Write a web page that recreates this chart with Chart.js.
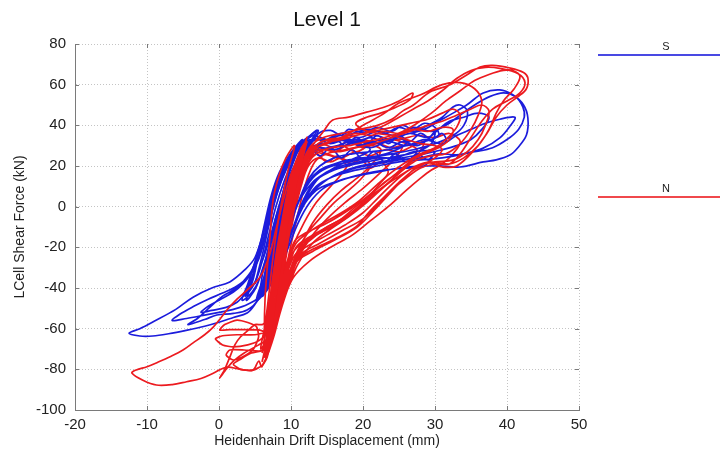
<!DOCTYPE html>
<html>
<head>
<meta charset="utf-8">
<script src="https://cdn.jsdelivr.net/npm/chart.js@4.4.1/dist/chart.umd.min.js"></script>
<style>
  html, body { margin: 0; padding: 0; background: #ffffff; }
  #wrap { width: 720px; height: 456px; position: relative; }
</style>
</head>
<body>
<div id="wrap"><canvas id="c" width="720" height="456"></canvas></div>
<script>
// Labels
const chartTitle = 'Level 1';
const xTitle = 'Heidenhain Drift Displacement (mm)';
const yTitle = 'LCell Shear Force (kN)';
const seriesNames = ['S', 'N'];
const seriesColors = ['#1c1cdc', '#ec1a1f'];
const xTicks = [-20, -10, 0, 10, 20, 30, 40, 50];
const yTicks = [80, 60, 40, 20, 0, -20, -40, -60, -80, -100];

// S record: displacement (mm), force (kN), split into cycle groups
const sElastic = [[4,-40],[5,-30],[5.9,-16],[6.8,-2],[7.8,10],[8.9,19],[10,25],[11.2,29],[10.2,22],[9,12],[7.9,0],[6.9,-14],[5.9,-28],[4.9,-38],[3.6,-44],
  [4.5,-36],[5.4,-24],[6.3,-9],[7.3,6],[8.4,17],[9.6,24],[11.5,31],[13.2,35],[12.2,28],[10.4,18],[9,6],[7.9,-8],[6.8,-22],[5.8,-34],[4.6,-42],[3.2,-46],
  [4,-38],[5,-27],[6.2,-12],[7.2,3],[8.3,14],[9.6,23],[10.9,30],[12.3,34],[13.8,37.5],[12.8,31],[11.2,22],[9.7,10],[8.4,-3],[7.2,-18],[6.1,-30],[5.1,-40],[3.8,-46],
  [4.8,-35],[5.7,-20],[6.7,-6],[7.7,8],[8.9,20],[10.3,28],[11.6,33],[10.8,26],[9.5,14],[8.3,0],[7.1,-15],[6,-27],[5,-37],[3.6,-43]];

const sNegative = [[3.6,-43],[2.5,-47],[1,-49.5],[-1,-51],[-2.5,-52],[-1.5,-49],[0,-46],[2,-42],[3.3,-38],[4.6,-32],[6,-20],[7.2,-4],[8.5,12],[10,24],[11.8,31],[13,33],
  [11.3,26],[9.8,14],[8.4,0],[7.2,-16],[6.2,-30],[5.3,-46],[3.9,-50.8],[2,-52.5],[-0.3,-53.3],[-2,-55.5],[-4.3,-58],[-3,-55],[-1.25,-49.4],[0.5,-44],[2,-41],[3.3,-37],
  [4.6,-31],[5.9,-19],[7.1,-3],[8.4,12],[9.7,22],[11,29],[12.6,33],[11.6,27],[9.9,16],[8.5,2],[7.3,-14],[6.5,-30],[6,-42],[5,-48],[3.9,-52.3],[2,-54.5],[0.1,-56.7],
  [-2,-58.8],[-4.4,-60.7],[-7,-62.5],[-9.2,-63.6],[-11,-63.6],[-12.5,-62.3],[-11,-60],[-9.2,-56.7],[-6,-50.5],[-3.6,-44.5],[-1,-40],[1.5,-37],[3.6,-31],[5,-25],
  [6.2,-12],[7.4,3],[8.7,16],[10.2,26],[11.8,32],[13.6,37.7],[12.4,30],[10.6,18],[9,4],[7.6,-12],[6.6,-28],[5.6,-44],[4,-48],[2,-50.5],[0,-52],[-2.2,-53.5],
  [-4.5,-55],[-6.5,-56],[-5.5,-53],[-3.5,-49],[-1.5,-45.5],[0.5,-42.5],[2.5,-39],[4.2,-34],[5.5,-26],[6.8,-10],[8,6],[9.3,18],[10.8,27]];

const sPositive = [[5,-38],[6,-24],[7,-8],[8.2,8],[9.5,20],[11.5,29],[13.5,33],[15.5,31],[17.5,33],[19.5,31],[21,28],[19,24],[17,21],[15,17],[13,12],[11,2],[9.3,-12],[7.8,-26],[6.3,-38],
  [7.2,-22],[8.1,-6],[9.1,10],[10.2,22],[11.3,30],[13,35],[15,33],[17,35],[19,32],[21,34],[23,32],[25,34],[26,31],[24,27],[22,25],[20,24],[18,23],[16,21],[14,18],[12.4,12],[10.8,0],[9.4,-14],[8,-28],[6.7,-38],
  [7.6,-24],[8.6,-8],[9.6,8],[10.7,20],[11.8,28],[13.5,33],[15.5,31],[17.5,33],[19.5,30],[21.5,32],[23.5,29],[25.5,32],[27.5,30],[29,33],[30,37],[29.5,31],[27.5,27],[25,25],[22,23],[19,21],[16,18],[13.5,13],[11.8,4],[10.3,-10],[8.8,-22],[7.2,-34],[5.7,-42],
  [6.9,-28],[8,-12],[9.1,4],[10.3,16],[11.6,25],[13.5,30],[16,32],[18.5,36],[21,38],[23,36],[25,39],[27,37],[29,40],[31,44],[32.5,49],[33.5,50],[34.5,47],[34,40],[32.5,35],[30,31],[27,28],[24,26],[21,24],[18,22],[15,19],[13,14],[11.4,5],[9.8,-8],[8.3,-22],[6.9,-34],[5.5,-43],
  [6.7,-30],[7.9,-14],[9,2],[10.2,15],[11.8,24],[14,28],[16.5,30],[19,33],[21.5,31],[24,34],[26.5,36],[28.5,38],[30.5,42],[32.5,46],[34.4,50],[36.7,55.9],[39,57.4],[40.8,55],[42.3,50],[42.9,43.6],[42.7,35.2],[41.5,29],[40.4,25.4],[38.5,23],[36.7,22],[33.5,19.5],[31,20],[28,20],[25,19],[22,17],[19,15],[16,12],[13.5,8],[11.3,-2],[9.7,-16],[8.3,-30],[6.9,-40],[5.2,-46],
  [6.5,-32],[7.7,-16],[8.8,0],[10,14],[11.6,24],[13.5,29],[16,28],[18.5,31],[21,29],[23.5,32],[26,30],[28.5,33],[31,31],[33,35],[35,38],[37,41],[39,43],[41.1,44],[40.5,40],[39,33.8],[36.7,28.8],[34,26],[31,24],[28,23],[25,22],[22,20],[19,18],[16,15],[13.5,10],[11.6,0],[10,-14],[8.5,-28],[7,-38],[5.5,-45],
  [6.8,-30],[7.9,-14],[9,2],[10.3,16],[12,26],[14,30],[16.5,33],[19,31],[21.5,35],[24,33],[26.5,36],[29,34],[30.5,38],[32,42],[34,44],[36,46],[37.5,44],[36.5,38],[35,33],[33,30],[31,28],[28.5,26],[25.5,24],[22.5,22],[19.5,20],[17,17],[14.5,12],[12.5,5],[10.8,-6],[9.2,-20],[7.7,-32],[6.2,-42],
  [7.3,-28],[8.4,-12],[9.5,4],[10.8,18],[12.5,28],[14.5,32],[17,36],[19.5,34],[22,37],[24.5,35],[27,39],[29.5,37],[31.5,40],[33.5,45],[35.5,50],[37.5,54],[39.5,56],[41.2,54],[42.2,49],[42.4,44],[41.6,38],[40,33],[38,29],[35.5,27],[33,25.5],[30.5,26],[28,24],[25,23],[22,21],[19,19],[16.5,16],[14,11],[12,2],[10.4,-10],[8.9,-24],[7.4,-36],[6,-44],
  [7,-30],[8.1,-14],[9.2,2],[10.4,16],[11.5,26],[12.5,31],[14,34],[15,31],[16,34],[17.5,30],[19,34],[20.5,31],[22,35],[23.5,31],[25,35],[26.5,32],[28,36],[29.5,33],[31,36],[31.5,32],[29.5,28],[27,27],[24.5,24],[22,24],[19.5,22],[17,20],[14.5,16],[12.8,9],[11.2,-3],[9.6,-17],[8.1,-30],[6.6,-40],
  [7.6,-26],[8.7,-10],[9.8,6],[11,20],[12.5,29],[14,25],[15.5,29],[17,24],[18.5,28],[20,23],[21.5,27],[23,22],[24.5,26],[26,22],[27.5,26],[29,23],[30,27],[28.5,20],[26,19],[23,18],[20,16],[17,13],[14.5,9],[12.6,2],[11,-8],[9.4,-22],[7.9,-34],[6.4,-42],
  [7.5,-28],[8.6,-12],[9.7,4],[10.9,18],[12.2,28],[13.8,36],[15.5,37.5],[17,35],[18,38],[20,36.5],[22,39],[24,37],[25.5,40],[27,38],[28.5,41],[30,39],[30.5,35],[28.5,32],[26,30],[23.5,28],[21,27],[18.5,26],[16,24],[14,20],[12.5,14],[11.2,4],[9.8,-10],[8.3,-24],[6.9,-36],[5.6,-44]];

// N record: displacement (mm), force (kN), split into cycle groups
const nElastic = [[6,-72],[6.5,-60],[7,-48],[7.5,-35],[8,-22],[8.7,-8],[9.4,5],[10.2,16],[11,24],[10.4,14],[9.6,0],[8.8,-14],[8.1,-28],[7.5,-42],[7,-56],[6.5,-68],[6,-76],
  [6.8,-64],[7.3,-52],[7.8,-40],[8.3,-27],[9,-12],[9.7,2],[10.5,14],[11.5,25],[12.2,32],[11.5,22],[10.5,8],[9.6,-6],[8.8,-20],[8.1,-34],[7.5,-48],[7,-60],[6.3,-72],
  [6.6,-66],[7,-55],[7.4,-43],[7.9,-30],[8.5,-16],[9.2,-2],[10,11],[10.8,22],[11.8,30],[12.2,34],[11,20],[10,4],[9.2,-10],[8.5,-24],[7.9,-38],[7.3,-52],[6.8,-64],[6.2,-74],
  [6.9,-62],[7.4,-50],[7.9,-38],[8.4,-25],[9,-11],[9.6,3],[10.3,15],[11.2,26],[10.6,17],[9.9,4],[9.1,-10],[8.4,-26],[7.8,-40],[7.2,-54],[6.7,-66],
  [7.2,-58],[7.6,-46],[8.1,-33],[8.7,-19],[9.4,-4],[10.1,10],[10.9,21],[11.6,28],[10.9,18],[10.1,4],[9.3,-12],[8.6,-28],[8,-42],[7.4,-56],[6.9,-66],[6.4,-74],
  [6.3,-60],[6.4,-45],[6.7,-30],[7.1,-14],[7.5,3],[8.3,15],[9.3,24],[10.5,30],[9.6,18],[8.8,4],[8,-12],[7.4,-28],[6.9,-44],[6.4,-58],[5.8,-70],
  [6.9,-62],[7.2,-50],[7.6,-38],[8.1,-25],[8.7,-12],[9.3,1],[10,13],[10.8,23],[11.5,29],[10.7,17],[9.9,3],[9.2,-9],[8.6,-22],[8,-36],[7.4,-50],[6.9,-63],[6.4,-72],
  [6.7,-60],[7.1,-47],[7.6,-34],[8.2,-20],[8.8,-6],[9.5,7],[10.3,18],[11.2,27],[11.9,31],[11.1,19],[10.3,6],[9.5,-8],[8.8,-22],[8.2,-36],[7.7,-50],[7.2,-62],[6.7,-74],[5.9,-79]];

const nNegative = [[5.9,-79],[5.5,-76],[4.7,-80.4],[3,-80],[1,-79],[-0.8,-81.9],[-2.5,-84.5],[-4.5,-86.1],[-6.5,-87.5],[-8.7,-87.7],[-10.5,-85.5],[-12.1,-81.8],
  [-11.5,-80.3],[-10,-78.7],[-8.5,-76.5],[-6.8,-73.8],[-5,-70.5],[-3.6,-67],[-2,-63],[-0.8,-59.2],[0.2,-55],[1.1,-50.8],[2.5,-45.5],[3.9,-41],[5.7,-34.6],[7,-24],
  [8,-10],[9,4],[10,16],[11,24],[10.3,14],[9.3,0],[8.4,-16],[7.6,-32],[7,-48],[6.5,-62]];

const nTangle = [[6.5,-62],[5.7,-60.7],[3.5,-60.5],[1.5,-60.5],[0.1,-60.7],[0.8,-58],[2.5,-55.8],[4,-57],[5.2,-59],[5.5,-64],[4.8,-70],[3.5,-73.5],[2,-75.4],[1,-73],
  [1.5,-70.5],[3.5,-70.5],[5.5,-71],[6.1,-70.5],[6.6,-66],[5.5,-68],[3.5,-72],[2,-76],[1,-80],[0.1,-84.3],[0.8,-80],[1.5,-74],[2.2,-68],[3,-64],[4,-61],[5,-58],
  [6,-58],[7,-56],[6.5,-70],[4.5,-72],[3,-75],[2,-77.5],[3,-80],[4.7,-80.4],[6,-78],[6.8,-72],[7,-62],[5,-63],[2.5,-63],[0.5,-63.5],[-0.5,-65],[0.5,-68],[2,-69],
  [4,-68],[5.5,-66],[6.5,-63],[7.2,-58]];

// N cycles that stay below about 35 kN
const nMidCycles = [[8,-44],[8.6,-32],[9.2,-18],[9.9,-4],[10.7,10],[11.5,22],[12.5,27],[14.5,26],[16.5,24],[18,22],[17,16],[15.5,10],[13.5,2],[11.8,-8],[10.2,-20],[9,-32],[8,-44],
  [8.6,-30],[9.3,-16],[10,-2],[10.8,12],[11.8,24],[13,30],[15,28],[17,30],[19,27],[21,30],[22.5,28],[21.5,22],[19.5,15],[17,8],[15,1],[13,-8],[11.5,-18],[10,-30],[8.8,-42],[7.8,-54],
  [8.4,-40],[9,-26],[9.8,-12],[10.6,2],[11.5,16],[12.5,26],[14,31],[16,29],[18,32],[20,29],[22,31],[24,29],[25.5,30],[24.5,24],[22.5,17],[20,9],[17.5,2],[15,-6],[13,-14],[11.2,-24],[9.8,-36],[8.6,-48],[7.5,-60],
  [8,-48],[8.6,-35],[9.3,-21],[10,-7],[10.8,7],[11.8,19],[13,28],[15,26],[17,24],[19,27],[21,25],[23,28],[25,27],[27,30],[28.5,32],[27.5,25],[25.5,18],[23,10],[20.5,2],[18,-5],[15.5,-11],[13,-18],[11,-28],[9.6,-40],[8.5,-52],[7.6,-64],[6.8,-72],
  [7.6,-56],[8.3,-42],[9,-30],[9.7,-17],[10.5,-3],[11.4,10],[12.4,20],[13.8,24],[15.5,22],[17,24],[18.5,21],[20,24],[21,20],[19.8,14],[18,8],[16,2],[14.2,-5],[12.5,-12],[11,-21],[9.8,-32],[8.8,-44],[7.9,-56],
  [8.6,-44],[9.3,-31],[10.1,-17],[11,-3],[12,11],[13.3,22],[15,26],[17.5,28],[20,30],[22.5,33],[25,33],[27.5,35],[30,34],[32,36],[33.5,32],[32.5,26],[31,21],[29.5,18],[28,14],[26,8],[23.5,0],[21,-7],[18.5,-14],[15.5,-20],[12.5,-27],[10.3,-35],[9,-46],[8,-58],[7.2,-68],
  [7.8,-56],[8.4,-43],[9,-29],[9.7,-15],[10.5,-1],[11.4,13],[12.5,23],[14,29],[16,27],[18,31],[20,33],[22,31],[24,33],[26,31],[27.5,28],[26.5,22],[24.5,15],[22,7],[19.5,0],[17,-7],[14.5,-12],[12.5,-16],[11,-22],[9.7,-34],[8.6,-46],[7.7,-58],
  [8.3,-46],[8.9,-33],[9.6,-19],[10.3,-5],[11.2,9],[12.2,20],[13.5,26],[15,22],[16.5,25],[18,20],[19.5,24],[21,19],[22.5,22],[23.5,17],[22.5,12],[21,6],[19,0],[17,-6],[15,-10],[13.2,-15],[11.6,-20],[10.2,-30],[9.1,-42],[8.1,-54],[7.3,-64]];

// N cycles reaching the upper and right-hand peaks
const nLargeCycles = [[7.4,-60],[8,-47],[8.6,-33],[9.3,-19],[10,-5],[10.8,9],[11.8,21],[13,30],[14.5,37],[15.8,42.6],[18,44],[20.5,46.5],[23,49],[25,52],[26.9,55.9],[26.5,52.5],[24,48],[22,45.5],[20.5,44],[19,41],[20,38],[22,36],[24,35],[26,33],[28,31],[30,30],[31,28],[30,24],[28.5,21],[27,18],[25,12],[23,5],[21,-2],[19,-10],[16,-16],[13,-21],[10.8,-26],[9.3,-38],[8.2,-50],[7.3,-62],[6.5,-70],
  [7.2,-58],[7.8,-45],[8.4,-32],[9.1,-18],[9.8,-4],[10.6,10],[11.6,22],[12.8,30],[14.5,34],[17,36],[19.5,38],[22,40],[24,43],[25.5,47],[27,50],[29.3,56.4],[32,59.8],[34.4,64.8],[36.25,68.7],[38,69.5],[40.4,68.2],[42.3,66],[42.9,63.3],[42.7,58],[41.5,54],[40,50],[38.5,44],[37.2,36],[35.5,28],[33,20],[31,19.5],[29.3,21.5],[27.5,19.5],[25.5,13],[23.75,6.7],[21.5,-2],[19.2,-10],[16,-16.5],[13,-22],[10.8,-27],[9.5,-38],[8.4,-50],[7.5,-62],[6.8,-72],
  [7.5,-60],[8.1,-48],[8.7,-35],[9.4,-21],[10.1,-7],[10.9,7],[11.9,19],[13.5,26],[15.5,29],[18,30],[20.5,32],[23,34],[25.5,37],[27.5,41],[29.5,46],[31.5,52],[33.5,57],[35.5,62],[37.5,65],[39.5,67],[40.8,67],[41.8,64],[41,58],[39.5,52],[38.5,46],[37.5,38],[36,30],[34,24],[32,21],[30,22],[28,21],[26,17],[24,11],[22,4],[20,-3],[17.5,-9],[15,-14],[12.5,-19],[10.5,-24],[9.2,-36],[8.2,-48],[7.3,-60],[6.6,-70],
  [7.3,-58],[7.9,-46],[8.5,-33],[9.2,-19],[9.9,-5],[10.7,9],[11.7,21],[13,28],[15,31],[17.5,35],[20.5,41],[23,46],[25,51],[28,55],[31,60],[33.5,61],[35.5,58],[36.5,52],[36,45],[35,38],[33.5,31],[31.5,26],[29.5,25],[27.5,23],[25.5,18],[23,12],[20.5,4],[18,-4],[15,-10],[12.5,-15],[10.7,-20],[9.5,-32],[8.5,-44],[7.6,-56],[6.9,-66],
  [7.6,-54],[8.2,-41],[8.9,-27],[9.6,-13],[10.4,1],[11.3,14],[12.5,24],[14,28],[16.5,27],[19,29],[21.5,31],[24,34],[26.5,37],[29,40],[31,42],[33,45],[35,48],[36.5,50],[37.5,47],[37,40],[36,33],[34.5,27],[32.5,23],[30,22],[27.5,20],[25,15],[22.5,9],[20,2],[17.5,-6],[14.5,-12],[12,-17],[10.4,-22],[9.2,-34],[8.3,-46],[7.4,-58],[6.7,-68],
  [7.3,-56],[7.9,-43],[8.5,-30],[9.2,-16],[9.9,-2],[10.7,12],[11.7,23],[13,29],[15,33],[17,34],[19,36],[21,35],[23,37],[25,36],[27,38],[29,37],[31,39],[32.5,38],[32,33],[30.5,29],[28.5,26],[26.5,22],[24.5,16],[22,9],[19.5,2],[17,-4],[14.5,-9],[12,-13],[10.5,-17],[9.3,-30],[8.3,-42],
  [8.9,-28],[9.6,-14],[10.4,0],[11.3,14],[12.5,25],[14.5,31],[17,33],[20,36],[23,40],[25,44],[27,48],[29,52],[31,57],[33,63],[35,67],[37,68.5],[39,68],[41.5,65.5],[42.5,61],[41.8,56],[40,52],[38,48],[36.5,42],[35,34],[33.5,26],[32,21],[30,21],[28,19],[26,14],[24,8],[22,1],[20,-6],[17,-12],[14,-18],[11.5,-23],[9.8,-32],[8.7,-44],[7.8,-56],
  [8.5,-39],[9.2,-25],[9.9,-11],[10.7,3],[11.6,16],[12.7,26],[14.2,32],[16.5,33],[19,35],[21.5,37],[24,39],[26.5,41],[29,43],[31,46],[32.5,48],[33.5,45],[33,39],[31.5,33],[30,29],[28,26],[26,22],[24,17],[22,11],[19.5,3],[17,-3],[14.5,-8],[12.3,-13],[10.7,-18],[9.5,-28],[8.5,-40],[7.6,-52],[6.9,-62]];

const toXY = pts => pts.map(([x, y]) => ({ x, y }));

function makeSet(label, pts, color, order, tension) {
  return {
    label, data: toXY(pts), order,
    showLine: true, borderColor: color, backgroundColor: color,
    borderWidth: 1.7, pointRadius: 0, tension, fill: false
  };
}

// Higher order is painted first
const datasets = [
  makeSet(seriesNames[1], nMidCycles, seriesColors[1], 7, 0.35),
  makeSet(seriesNames[0], sPositive, seriesColors[0], 6, 0.35),
  makeSet(seriesNames[0], sNegative, seriesColors[0], 6, 0.35),
  makeSet(seriesNames[0], sElastic, seriesColors[0], 6, 0.35),
  makeSet(seriesNames[1], nLargeCycles, seriesColors[1], 3, 0.35),
  makeSet(seriesNames[1], nNegative, seriesColors[1], 2, 0.35),
  makeSet(seriesNames[1], nTangle, seriesColors[1], 2, 0.2),
  makeSet(seriesNames[1], nElastic, seriesColors[1], 1, 0.35)
];

// Title, inward tick marks and the side legend
const decorations = {
  id: 'decorations',
  afterDraw(chart) {
    const { ctx, chartArea: a, scales: { x, y } } = chart;
    ctx.save();
    ctx.strokeStyle = '#7a7a7a';
    ctx.lineWidth = 1;
    ctx.beginPath();
    xTicks.forEach(v => {
      const px = Math.round(x.getPixelForValue(v)) + 0.5;
      ctx.moveTo(px, a.bottom); ctx.lineTo(px, a.bottom - 4);
      ctx.moveTo(px, a.top); ctx.lineTo(px, a.top + 4);
    });
    yTicks.forEach(v => {
      const py = Math.round(y.getPixelForValue(v)) + 0.5;
      ctx.moveTo(a.left, py); ctx.lineTo(a.left + 4, py);
      ctx.moveTo(a.right, py); ctx.lineTo(a.right - 4, py);
    });
    ctx.stroke();

    ctx.fillStyle = '#111111';
    ctx.textAlign = 'center';
    ctx.textBaseline = 'middle';
    ctx.font = '21px "Liberation Sans", Arial, sans-serif';
    ctx.fillText(chartTitle, (a.left + a.right) / 2, 20);

    const legendRows = [55, 197];
    ctx.font = '11px "Liberation Sans", Arial, sans-serif';
    seriesNames.forEach((name, i) => {
      const ly = legendRows[i];
      ctx.strokeStyle = seriesColors[i];
      ctx.globalAlpha = 0.8;
      ctx.lineWidth = 2;
      ctx.beginPath();
      ctx.moveTo(598, ly); ctx.lineTo(720, ly);
      ctx.stroke();
      ctx.globalAlpha = 1;
      ctx.fillStyle = '#222222';
      ctx.fillText(name, 666, ly - 8);
    });
    ctx.restore();
  }
};

const tickFont = { family: '"Liberation Sans", Arial, sans-serif', size: 15 };
const titleFont = { family: '"Liberation Sans", Arial, sans-serif', size: 14 };

new Chart(document.getElementById('c'), {
  type: 'scatter',
  data: { datasets },
  options: {
    responsive: false,
    animation: false,
    devicePixelRatio: 1,
    layout: { padding: { top: 44, right: 141, left: 0, bottom: 0 } },
    plugins: { legend: { display: false }, tooltip: { enabled: false }, title: { display: false } },
    scales: {
      x: {
        type: 'linear', min: -20, max: 50,
        afterBuildTicks: s => { s.ticks = xTicks.map(v => ({ value: v })); },
        afterFit: s => { s.height = 46; },
        grid: { color: '#c4c4c4', lineWidth: 1, drawTicks: false },
        border: { display: true, color: '#7a7a7a', width: 1, dash: [1, 2] },
        ticks: { color: '#222222', font: tickFont, padding: 6, autoSkip: false, maxRotation: 0 },
        title: { display: true, text: xTitle, color: '#222222', font: titleFont, padding: { top: 0, bottom: 6 } }
      },
      y: {
        type: 'linear', min: -100, max: 80,
        afterBuildTicks: s => { s.ticks = yTicks.map(v => ({ value: v })); },
        afterFit: s => { s.width = 75; },
        grid: { color: '#c4c4c4', lineWidth: 1, drawTicks: false },
        border: { display: true, color: '#7a7a7a', width: 1, dash: [1, 2] },
        ticks: { color: '#222222', font: tickFont, padding: 9, autoSkip: false },
        title: { display: true, text: yTitle, color: '#222222', font: titleFont, padding: { top: 12, bottom: 0 } }
      }
    }
  },
  plugins: [decorations]
});
</script>
</body>
</html>
